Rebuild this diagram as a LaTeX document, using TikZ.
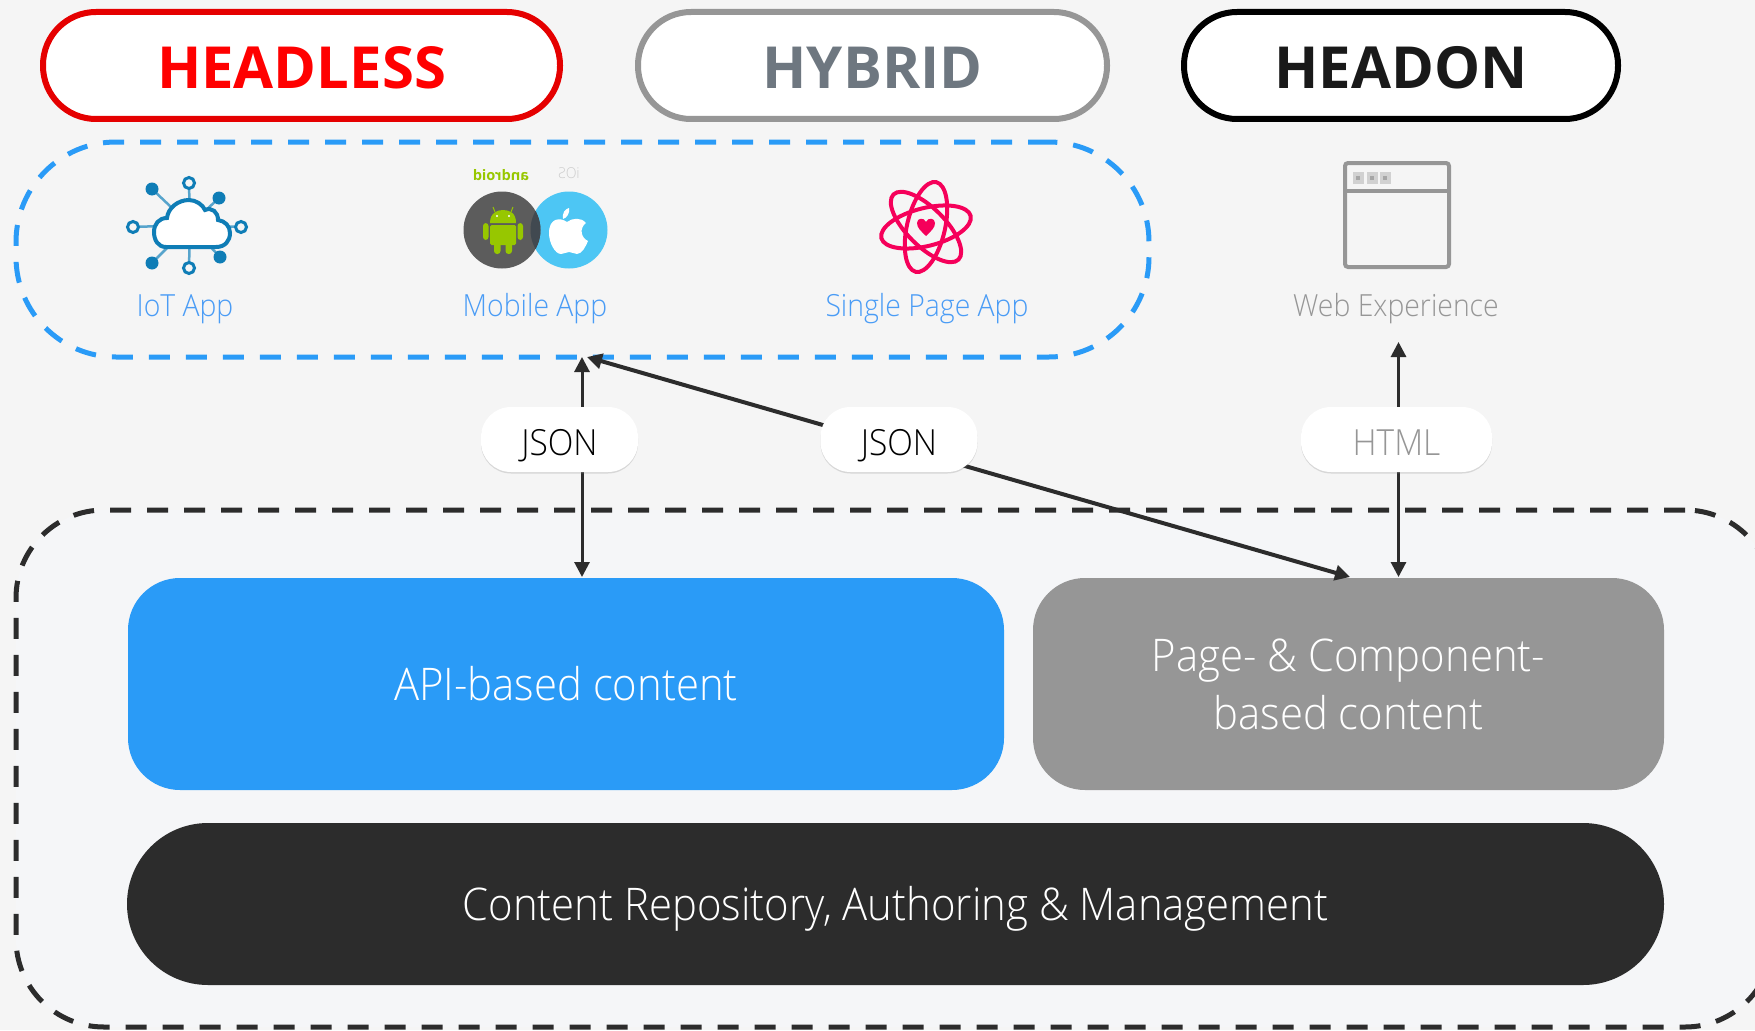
\documentclass[tikz,border=0pt]{standalone}
\usepackage{fontspec}
\setmainfont{Open Sans Light}[FakeStretch=0.93]
\newfontfamily\headfont{Open Sans Bold}
\usetikzlibrary{arrows.meta,shadows}
\definecolor{pageBg}{HTML}{F5F5F5}
\definecolor{platformBg}{HTML}{F5F6F8}
\definecolor{appBlue}{HTML}{2A9BF7}
\definecolor{labelBlue}{HTML}{4A9CF5}
\definecolor{midGray}{HTML}{969696}
\definecolor{inkDark}{HTML}{2C2C2C}
\definecolor{hybridText}{HTML}{6E7780}
\definecolor{cloudBlue}{HTML}{0F7DB6}
\definecolor{droidGreen}{HTML}{97C700}
\definecolor{reactPink}{HTML}{F5005A}
\tikzset{
  modepill/.style={draw, line width=6pt, fill=white, rounded corners=53pt, minimum height=107pt, inner sep=0pt, text height=46pt, text depth=0pt, font=\fontsize{58}{60}\selectfont\headfont},
  dashframe/.style={draw, line width=5pt, dash pattern=on 21pt off 16pt, inner sep=0pt},
  contentbox/.style={fill=#1, text=white, inner sep=0pt, align=center, font=\fontsize{45}{58}\selectfont},
  applabel/.style={font=\fontsize{30.5}{33}\selectfont, inner sep=0pt},
  formatpill/.style={fill=white, rounded corners=30pt, minimum height=65pt, inner sep=0pt, text height=31pt, text depth=0pt, font=\fontsize{36}{38}\selectfont, drop shadow={shadow xshift=0pt, shadow yshift=-1.5pt, opacity=.25}},
  dataarrow/.style={draw=inkDark, {Triangle[length=15pt,width=15pt]}-{Triangle[length=15pt,width=15pt]}},
}
\begin{document}
\begin{tikzpicture}[x=1pt, y=-1pt]
\useasboundingbox (0,0) rectangle (1755,1030);
\fill[pageBg] (0,0) rectangle (1755,1030);
\node[modepill, draw=red!90!black, text=red, minimum width=517pt] (headless) at (301.5,65.5) {HEADLESS};
\node[modepill, draw=midGray, text=hybridText, minimum width=469pt] (hybrid) at (872.5,65.5) {HYBRID};
\node[modepill, draw=black, text=black!90, minimum width=434pt] (headon) at (1401,65.5) {HEADON};
\node[dashframe, draw=appBlue, rounded corners=100pt, minimum width=1133pt, minimum height=215pt] (apps) at (582.5,249.5) {};
\node[dashframe, draw=inkDark, fill=platformBg, rounded corners=88pt, minimum width=1757pt, minimum height=517pt] (platform) at (894.5,768.5) {};
% iot icon
\foreach \px/\py in {189/183,133/227,241/227,189/268,152/189,219/198,152/263,220/257}
  \draw[cloudBlue!70, line width=2.5pt] (\px,\py) -- (190,225);
\foreach \px/\py in {152/189,219/198,152/263,220/257}
  \fill[cloudBlue] (\px,\py) circle (6.5);
\foreach \px/\py in {189/183,133/227,241/227,189/268}
  \draw[cloudBlue, line width=3pt, fill=pageBg] (\px,\py) circle (5.5);
\draw[cloudBlue, line width=4pt, fill=white] (166,247) .. controls (158,247) and (154,240) .. (154,232) .. controls (154,224) and (159,218) .. (167,218) .. controls (168,208) and (178,200) .. (189,200) .. controls (196,200) and (203,205) .. (205,210) .. controls (212,207) and (218,212) .. (218,220) .. controls (225,221) and (230,226) .. (230,233) .. controls (230,241) and (225,247) .. (216,247) -- cycle;
\node[applabel, text=labelBlue] (iotApp) at (185,309) {IoT App};
% mobile icon
\node[inner sep=0pt, text=droidGreen, font=\fontsize{14.5}{15}\selectfont\headfont] (androidTag) at (501,175) {\reflectbox{android}};
\node[inner sep=0pt, text=black!20, font=\fontsize{15}{16}\selectfont] (iosTag) at (569,173) {\reflectbox{iOS}};
\fill[cyan!70!white] (569,230) circle (38.5);
\fill[black!64] (502,230) circle (38.5);
\begin{scope}
\clip (502,230) circle (38.5);
\fill[black!64!cyan!60!black] (569,230) circle (38.5);
\end{scope}
\draw[droidGreen, line width=1pt] (495,212) -- (493,207) (511,212) -- (513,207);
\fill[droidGreen] (490,223) .. controls (490,213) and (497,210) .. (503,210) .. controls (510,210) and (516,213) .. (516,223) -- cycle;
\fill[droidGreen, rounded corners=1.5pt] (490,225) rectangle (516,245);
\fill[droidGreen, rounded corners=3pt] (483,223) rectangle (488.5,240);
\fill[droidGreen, rounded corners=3pt] (517.5,223) rectangle (523,240);
\fill[droidGreen, rounded corners=3pt] (494,240) rectangle (500.5,254);
\fill[droidGreen, rounded corners=3pt] (505.5,240) rectangle (512,254);
\fill[white] (497,216) circle (1.2) (509,216) circle (1.2);
\fill[white] (567,222) .. controls (560,217) and (549,218) .. (549,233) .. controls (549,243) and (555,254) .. (561,254) .. controls (564,254) and (566,252) .. (569,252) .. controls (572,252) and (574,254) .. (577,254) .. controls (582,254) and (586,246) .. (588,241) .. controls (581,238) and (579,228) .. (586,223) .. controls (581,217) and (572,218) .. (567,222) -- cycle;
\fill[white] (563,219) .. controls (562,213) and (565,209) .. (569,208) .. controls (570,213) and (567,218) .. (563,219) -- cycle;
\node[applabel, text=labelBlue] (mobileApp) at (535,309) {Mobile App};
% spa icon
\foreach \tilt in {14,77,-45}
  \draw[reactPink, line width=4pt, rotate around={\tilt:(926,227)}] (926,227) ellipse [x radius=46, y radius=19];
\fill[reactPink] (926,236) .. controls (921,231) and (917,228) .. (917,223) .. controls (917,218) and (924,217) .. (926,222) .. controls (928,217) and (935,218) .. (935,223) .. controls (935,228) and (931,231) .. (926,236) -- cycle;
\node[applabel, text=labelBlue] (spaApp) at (927,309) {Single Page App};
% web icon
\draw[midGray, line width=4pt, rounded corners=3pt] (1345,163) rectangle (1449,267);
\draw[midGray, line width=4pt] (1345,191) -- (1449,191);
\foreach \px in {1358,1372,1385}{
  \fill[black!18] (\px-5.5,172) rectangle (\px+5.5,184);
  \fill[black!35] (\px-2,176) rectangle (\px+2,180);
}
\node[applabel, text=midGray] (webApp) at (1396,309) {Web Experience};
% content boxes
\node[contentbox=appBlue, rounded corners=52pt, minimum width=876pt, minimum height=212pt] (apiBox) at (566,684) {API-based content};
\node[contentbox=midGray, rounded corners=52pt, minimum width=631pt, minimum height=212pt] (pageBox) at (1348.5,684) {Page- \& Component-\\based content};
\node[contentbox=inkDark, rounded corners=81pt, minimum width=1537pt, minimum height=162pt, text height=32pt, text depth=0pt] (repoBox) at (895.5,904) {Content Repository, Authoring \& Management};
% connectors
\coordinate (apiPort) at (582,577);
\coordinate (appsPort) at (582,357);
\coordinate (spaPort) at (587,357);
\coordinate (pagePort) at (1350,577);
\coordinate (webPort) at (1398.5,342);
\coordinate (htmlPort) at (1398.5,577);
\draw[dataarrow, line width=3pt] (appsPort) -- (apiPort);
\draw[dataarrow, line width=4pt] (spaPort) -- (pagePort);
\draw[dataarrow, line width=3pt] (webPort) -- (htmlPort);
\node[formatpill, minimum width=157pt] (jsonLeft) at (559.5,439.5) {JSON};
\node[formatpill, minimum width=157pt] (jsonRight) at (899,439.5) {JSON};
\node[formatpill, minimum width=191pt, text=midGray] (htmlTag) at (1396.5,439.5) {HTML};
\end{tikzpicture}
\end{document}
